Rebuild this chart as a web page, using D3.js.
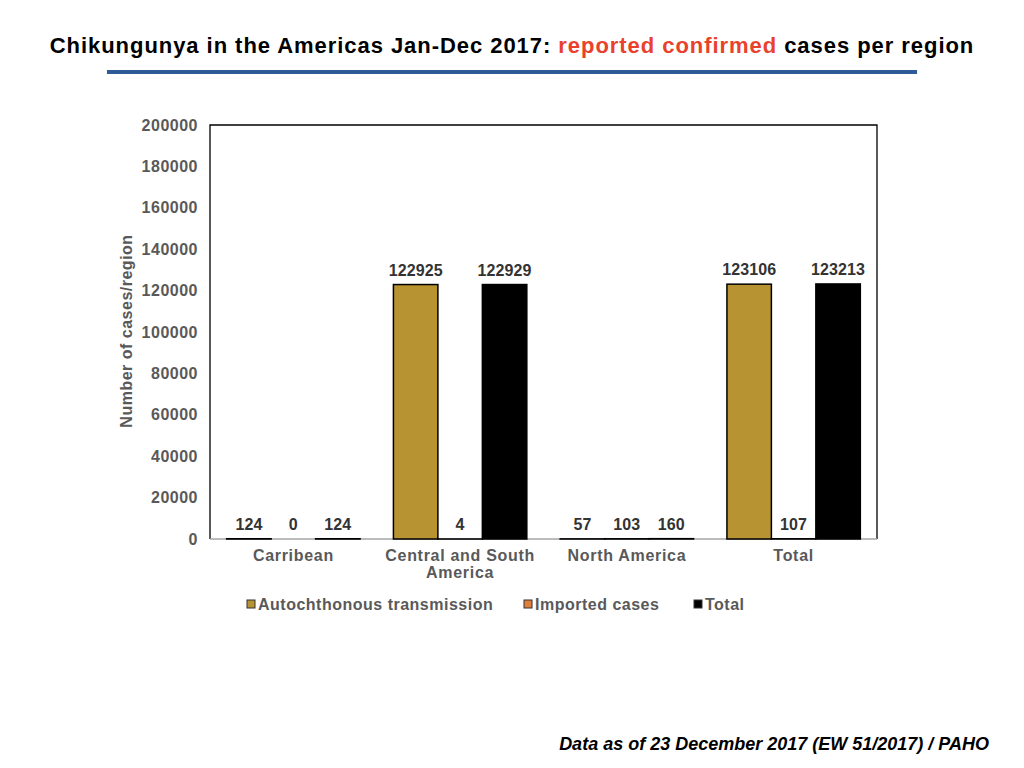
<!DOCTYPE html>
<html>
<head>
<meta charset="utf-8">
<script src="https://cdn.jsdelivr.net/npm/d3@7"></script>
<style>
  body { margin: 0; background: #fff; }
  svg { display: block; font-family: "Liberation Sans", Arial, sans-serif; }
</style>
</head>
<body>
<div id="svg_container"></div>
<script>
/* -----------------------
data
------------------------- */

var regions = ["Carribean", "Central and South America", "North America", "Total"];
var series = ["Autochthonous transmission", "Imported cases", "Total"];
var autochthonous = [124, 122925, 57, 123106];
var imported = [0, 4, 103, 107];
var totals = [124, 122929, 160, 123213];
var yTicks = [0, 20000, 40000, 60000, 80000, 100000, 120000, 140000, 160000, 180000, 200000];
var colors = ["#b89332", "#e07f3c", "#000000"];

/* -----------------------
main variables
------------------------- */

var width = 1024;
var height = 768;
var margin = {top: 125, right: 147, bottom: 229, left: 210};
var innerW = width - margin.left - margin.right;
var innerH = height - margin.top - margin.bottom;
var gray = "#595959";
var fontSize = 16;
var spacing = "0.5px";

var svg = d3.select("#svg_container")
	.append("svg")
	.attr("width", width)
	.attr("height", height);

/* -----------------------
title
------------------------- */

var title = svg.append("text")
	.attr("x", width / 2)
	.attr("y", 53)
	.attr("text-anchor", "middle")
	.attr("font-size", 22)
	.attr("font-weight", "bold")
	.attr("letter-spacing", "0.95px")
	.attr("fill", "#000");
title.append("tspan").text("Chikungunya in the Americas Jan-Dec 2017: ");
title.append("tspan").attr("fill", "#e8412c").text("reported confirmed");
title.append("tspan").text(" cases per region");

svg.append("rect")
	.attr("x", 107)
	.attr("y", 70)
	.attr("width", 810)
	.attr("height", 4)
	.attr("fill", "#2d5b98");

/* -----------------------
scales
------------------------- */

var rows = regions.map(function (r, i) {
	return {region: r, values: [autochthonous[i], imported[i], totals[i]]};
});

var x0 = d3.scaleBand()
	.domain(regions)
	.range([0, innerW])
	.paddingInner(0.2)
	.paddingOuter(0.1);

var x1 = d3.scaleBand()
	.domain(series)
	.range([0, x0.bandwidth()]);

var y = d3.scaleLinear()
	.domain([0, 200000])
	.range([innerH, 0]);

var plot = svg.append("g")
	.attr("transform", "translate(" + margin.left + "," + margin.top + ")");

/* -----------------------
axes
------------------------- */

var yAxis = plot.append("g")
	.call(d3.axisLeft(y).tickValues(yTicks).tickSize(0).tickPadding(12).tickFormat(d3.format("d")));
yAxis.select(".domain").remove();
yAxis.selectAll("text")
	.attr("font-family", "Liberation Sans, Arial, sans-serif")
	.attr("font-size", fontSize)
	.attr("font-weight", "bold")
	.attr("letter-spacing", spacing)
	.attr("fill", gray);

// frame: top, left, right in black, bottom in gray
plot.append("path")
	.attr("d", "M0," + innerH + "V0H" + innerW + "V" + innerH)
	.attr("fill", "none")
	.attr("stroke", "#000")
	.attr("stroke-width", 1.3);

plot.append("line")
	.attr("x1", 0).attr("x2", innerW)
	.attr("y1", innerH).attr("y2", innerH)
	.attr("stroke", "#a6a6a6")
	.attr("stroke-width", 1.3);

var xAxis = plot.append("g")
	.attr("transform", "translate(0," + innerH + ")")
	.call(d3.axisBottom(x0).tickSize(0).tickPadding(0).tickFormat(""));
xAxis.select(".domain").remove();

xAxis.selectAll(".tick").each(function (d) {
	var t = d3.select(this).append("text")
		.attr("text-anchor", "middle")
		.attr("font-size", fontSize)
		.attr("font-weight", "bold")
		.attr("letter-spacing", "0.7px")
		.attr("fill", gray);
	var lines = d === "Central and South America" ? ["Central and South", "America"] : [d];
	lines.forEach(function (l, i) {
		t.append("tspan").attr("x", 0).attr("y", 22 + i * 17).text(l);
	});
});

svg.append("text")
	.attr("transform", "translate(132," + (margin.top + innerH / 2 - 1) + ") rotate(-90)")
	.attr("text-anchor", "middle")
	.attr("font-size", fontSize)
	.attr("font-weight", "bold")
	.attr("letter-spacing", spacing)
	.attr("fill", gray)
	.text("Number of cases/region");

/* -----------------------
bars
------------------------- */

var group = plot.selectAll(".region")
	.data(rows)
	.enter()
	.append("g")
	.attr("class", "region")
	.attr("transform", function (d) { return "translate(" + x0(d.region) + ",0)"; });

var bar = group.selectAll(".bar")
	.data(function (d) {
		return d.values.map(function (v, i) { return {key: series[i], value: v, i: i}; });
	})
	.enter();

bar.append("rect")
	.attr("class", "bar")
	.attr("x", function (d) { return x1(d.key); })
	.attr("y", function (d) { return y(d.value); })
	.attr("width", x1.bandwidth())
	.attr("height", function (d) { return innerH - y(d.value); })
	.attr("fill", function (d) { return colors[d.i]; })
	.attr("stroke", function (d) { return d.value > 0 ? "#000" : "none"; })
	.attr("stroke-width", 1.5);

bar.append("text")
	.attr("x", function (d) { return x1(d.key) + x1.bandwidth() / 2; })
	.attr("y", function (d) { return y(d.value) - 9; })
	.attr("text-anchor", "middle")
	.attr("font-size", fontSize)
	.attr("font-weight", "bold")
	.attr("letter-spacing", "0.1px")
	.attr("fill", "#333")
	.text(function (d) { return d.value; });

/* -----------------------
legend
------------------------- */

var legendX = [247, 524, 694];
var legend = svg.selectAll(".legend")
	.data(series)
	.enter()
	.append("g")
	.attr("class", "legend")
	.attr("transform", function (d, i) { return "translate(" + legendX[i] + ",604)"; });

legend.append("rect")
	.attr("x", 0)
	.attr("y", -4)
	.attr("width", 8)
	.attr("height", 8)
	.attr("fill", function (d, i) { return colors[i]; })
	.attr("stroke", "#333")
	.attr("stroke-width", 1);

legend.append("text")
	.attr("x", 11)
	.attr("y", 6)
	.attr("font-size", fontSize)
	.attr("font-weight", "bold")
	.attr("letter-spacing", spacing)
	.attr("fill", gray)
	.text(function (d) { return d; });

/* -----------------------
footer
------------------------- */

svg.append("text")
	.attr("x", 989)
	.attr("y", 750)
	.attr("text-anchor", "end")
	.attr("font-size", 18)
	.attr("font-weight", "bold")
	.attr("font-style", "italic")
	.attr("fill", "#000")
	.text("Data as of 23 December 2017 (EW 51/2017) / PAHO");
</script>
</body>
</html>
